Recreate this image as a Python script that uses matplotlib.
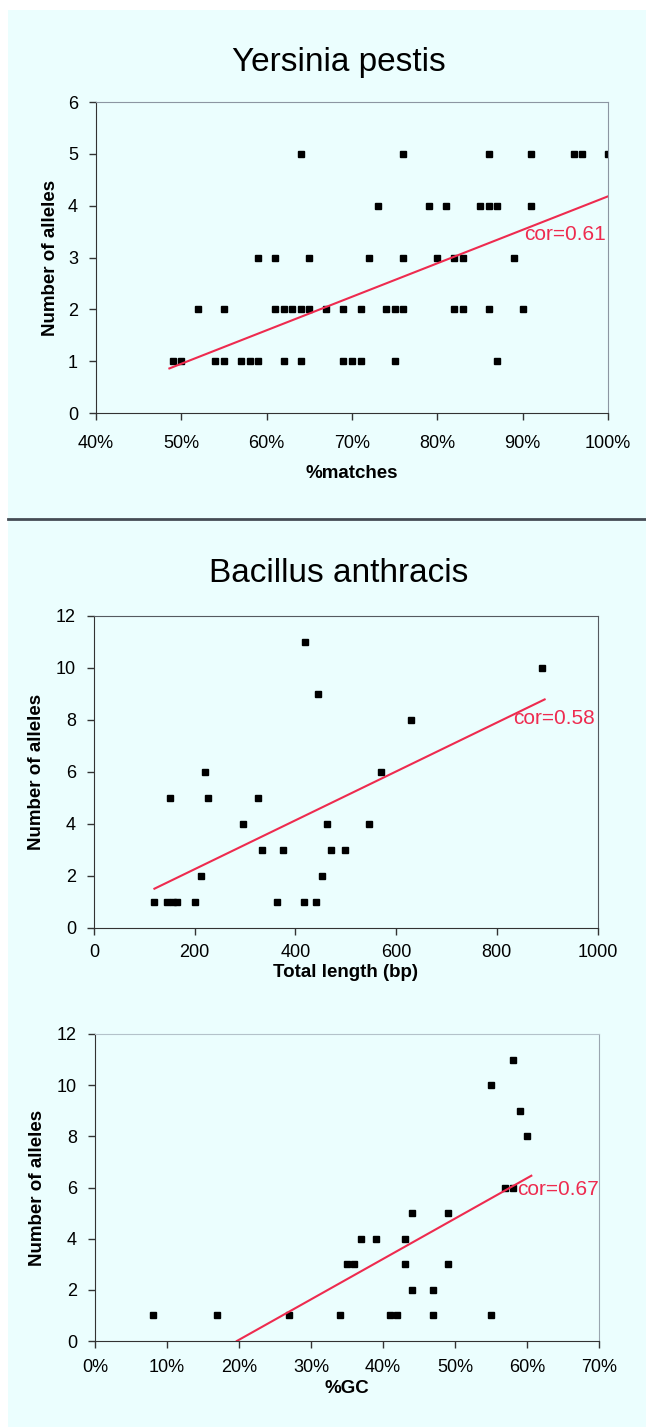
import matplotlib
matplotlib.use("Agg")
import matplotlib.pyplot as plt
from matplotlib.patches import Rectangle
from matplotlib.lines import Line2D

plt.rcParams['font.family'] = ['Liberation Sans', 'DejaVu Sans']

W, H = 646, 1427
bg = '#ebfefe'
red = '#ee2b4f'

# Yersinia pestis: %matches vs number of alleles
yp_match = [49, 50, 54, 55, 57, 58, 59, 62, 64, 69, 70, 71, 75, 87,
            52, 55, 61, 62, 63, 64, 65, 67, 69, 71, 74, 75, 76, 82, 83, 86, 90,
            59, 61, 65, 72, 76, 80, 82, 83, 89,
            73, 79, 81, 85, 86, 87, 91,
            64, 76, 86, 91, 96, 97, 100]
yp_alleles = [1]*14 + [2]*17 + [3]*9 + [4]*7 + [5]*7
yp_fit_x = [48.6, 100]
yp_fit_y = [0.86, 4.18]
yp_cor = "cor=0.61"

# Bacillus anthracis: total length vs number of alleles
ba_len = [120, 145, 157, 164, 201, 213, 150, 221, 227, 295, 325, 333, 364,
          376, 418, 420, 441, 445, 453, 463, 470, 498, 547, 571, 630, 890]
ba_len_alleles = [1, 1, 1, 1, 1, 2, 5, 6, 5, 4, 5, 3, 1,
                  3, 1, 11, 1, 9, 2, 4, 3, 3, 4, 6, 8, 10]
ba_len_fit_x = [120, 895]
ba_len_fit_y = [1.5, 8.78]
ba_len_cor = "cor=0.58"

# Bacillus anthracis: %GC vs number of alleles
ba_gc = [8, 17, 27, 34, 41, 42, 47, 55, 44, 47, 35, 36, 43, 49,
         37, 39, 43, 44, 49, 57, 58, 60, 59, 55, 58]
ba_gc_alleles = [1, 1, 1, 1, 1, 1, 1, 1, 2, 2, 3, 3, 3, 3,
                 4, 4, 4, 5, 5, 6, 6, 8, 9, 10, 11]
ba_gc_fit_x = [19.7, 60.6]
ba_gc_fit_y = [0.0, 6.46]
ba_gc_cor = "cor=0.67"

fig = plt.figure(figsize=(W/100, H/100), dpi=100)
fig.patch.set_facecolor('white')
fig.patches.append(Rectangle((8/W, 0), 1 - 8/W, 1 - 10/H, transform=fig.transFigure,
                             facecolor=bg, edgecolor='none', zorder=-10))
fig.lines.append(Line2D([8/W, 1], [1 - 519/H, 1 - 519/H], transform=fig.transFigure,
                        color='#454c55', lw=2))


def make_ax(left, right, top, bottom, xpad):
    ax = fig.add_axes([left/W, 1 - bottom/H, (right-left)/W, (bottom-top)/H])
    ax.set_facecolor(bg)
    for s in ['left', 'bottom']:
        ax.spines[s].set_color('#333333')
    for s in ['top', 'right']:
        ax.spines[s].set_color('#8c96a2')
    ax.tick_params(direction='out', length=5, width=1, color='#333333',
                   labelsize=13, pad=8)
    ax.tick_params(axis='x', pad=xpad)
    return ax


def panel(ax, x, y, fx, fy, cor, cx, cy, xlabel, xlabel_pad, ylabel_pad):
    ax.plot(x, y, 's', color='black', ms=3.8, mec='black')
    ax.plot(fx, fy, color=red, lw=1.5)
    ax.text(cx, cy, cor, color=red, fontsize=15, ha='right', va='center')
    ax.set_xlabel(xlabel, fontsize=13.5, fontweight='bold', labelpad=xlabel_pad)
    ax.set_ylabel('Number of alleles', fontsize=13.5, fontweight='bold', labelpad=ylabel_pad)


# panel 1
ax1 = make_ax(96, 608, 102, 413, 11)
panel(ax1, yp_match, yp_alleles, yp_fit_x, yp_fit_y, yp_cor, 99.8, 3.44, '%matches', 9, 6)
ax1.set_xlim(40, 100)
ax1.set_ylim(0, 6)
ax1.set_xticks(range(40, 101, 10))
ax1.set_xticklabels([f'{v}%' for v in range(40, 101, 10)])
ax1.set_yticks(range(0, 7))

# panel 2
ax2 = make_ax(94, 597.5, 615.7, 927.7, 7)
panel(ax2, ba_len, ba_len_alleles, ba_len_fit_x, ba_len_fit_y, ba_len_cor, 995, 8.03,
      'Total length (bp)', 2, 8)
for s in ['top', 'right']:
    ax2.spines[s].set_color('#555a60')
ax2.set_xlim(0, 1000)
ax2.set_ylim(0, 12)
ax2.set_xticks(range(0, 1001, 200))
ax2.set_yticks(range(0, 13, 2))

# panel 3
ax3 = make_ax(95, 599, 1034, 1341, 8)
panel(ax3, ba_gc, ba_gc_alleles, ba_gc_fit_x, ba_gc_fit_y, ba_gc_cor, 70, 5.94, '%GC', 3, 8)
ax3.spines['top'].set_color('#b4c2ca')
ax3.spines['right'].set_color('#9aa6b0')
ax3.set_xlim(0, 70)
ax3.set_ylim(0, 12)
ax3.set_xticks(range(0, 71, 10))
ax3.set_xticklabels([f'{v}%' for v in range(0, 71, 10)])
ax3.set_yticks(range(0, 13, 2))

fig.text(339/W, 1 - 62/H, 'Yersinia pestis', fontsize=24, ha='center', va='center')
fig.text(339/W, 1 - 573/H, 'Bacillus anthracis', fontsize=24, ha='center', va='center')

fig.savefig('out.png', dpi=100, facecolor=fig.get_facecolor())
